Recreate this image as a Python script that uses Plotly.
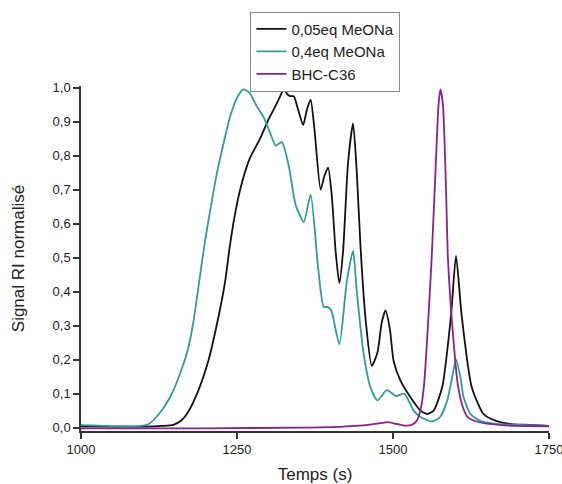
import plotly.graph_objects as go

# 0,05eq MeONa (black)
t_black = [1000, 1050, 1100, 1130, 1148, 1160, 1170, 1186, 1204, 1221, 1231, 1238, 1246, 1255,
           1270, 1287, 1300, 1310, 1318, 1325, 1331, 1336, 1341, 1348, 1356, 1362, 1368, 1374,
           1384, 1390, 1396, 1402, 1408, 1414, 1420, 1428, 1436, 1442, 1448, 1456, 1466, 1475,
           1482, 1488, 1495, 1501, 1512, 1528, 1544, 1555, 1565, 1579, 1593, 1601, 1610, 1626,
           1645, 1665, 1690, 1720, 1750]
v_black = [0.004, 0.003, 0.003, 0.005, 0.008, 0.02, 0.041, 0.10, 0.196, 0.332, 0.43, 0.527, 0.62, 0.70,
           0.79, 0.85, 0.905, 0.94, 0.97, 0.995, 0.98, 0.975, 0.975, 0.935, 0.89, 0.935, 0.965, 0.88,
           0.70, 0.74, 0.765, 0.68, 0.52, 0.425, 0.52, 0.78, 0.895, 0.75, 0.53, 0.32, 0.182, 0.22,
           0.31, 0.345, 0.29, 0.196, 0.138, 0.089, 0.05, 0.04, 0.05, 0.12, 0.33, 0.505, 0.33, 0.12,
           0.04, 0.02, 0.01, 0.008, 0.005]

# 0,4eq MeONa (teal)
t_teal = [1000, 1030, 1060, 1090, 1108, 1125, 1143, 1159, 1172, 1180, 1188, 1194, 1202, 1210,
          1218, 1229, 1239, 1250, 1260, 1270, 1282, 1293, 1303, 1312, 1322, 1333, 1344, 1357,
          1368, 1380, 1389, 1395, 1401, 1414, 1426, 1436, 1442, 1453, 1464, 1475, 1490, 1505,
          1518, 1533, 1544, 1562, 1575, 1587, 1595, 1601, 1608, 1613, 1624, 1640, 1670, 1700, 1750]
v_teal = [0.007, 0.006, 0.004, 0.004, 0.01, 0.04, 0.09, 0.16, 0.235, 0.31, 0.41, 0.49, 0.585, 0.67,
          0.75, 0.84, 0.915, 0.97, 0.995, 0.985, 0.944, 0.912, 0.867, 0.83, 0.84, 0.77, 0.655, 0.605,
          0.685, 0.47, 0.355, 0.355, 0.345, 0.245, 0.43, 0.52, 0.40, 0.216, 0.118, 0.08, 0.11, 0.093,
          0.10, 0.05, 0.031, 0.018, 0.03, 0.08, 0.15, 0.20, 0.15, 0.09, 0.04, 0.02, 0.01, 0.008, 0.005]

# BHC-C36 (purple)
t_purple = [1000, 1200, 1350, 1420, 1460, 1480, 1491, 1503, 1518, 1530, 1538, 1545, 1550, 1556,
            1562, 1568, 1573, 1576, 1580, 1585, 1588, 1595, 1604, 1612, 1620, 1640, 1670, 1700, 1750]
v_purple = [-0.002, -0.002, 0.0, 0.003, 0.008, 0.013, 0.016, 0.012, 0.006, 0.008, 0.02, 0.06, 0.13, 0.30,
            0.50, 0.75, 0.95, 0.995, 0.95, 0.70, 0.50, 0.30, 0.125, 0.06, 0.03, 0.015, 0.008, 0.005, 0.004]

series_names = ["0,05eq MeONa", "0,4eq MeONa", "BHC-C36"]
x_ticks = [1000, 1250, 1500, 1750]
y_ticks = [0.0, 0.1, 0.2, 0.3, 0.4, 0.5, 0.6, 0.7, 0.8, 0.9, 1.0]

fig = go.Figure()
fig.add_trace(go.Scatter(x=t_black, y=v_black, name=series_names[0], mode="lines",
                         line=dict(color="#111111", width=1.8, shape="spline", smoothing=0.6)))
fig.add_trace(go.Scatter(x=t_teal, y=v_teal, name=series_names[1], mode="lines",
                         line=dict(color="#2E9D97", width=1.8, shape="spline", smoothing=0.6)))
fig.add_trace(go.Scatter(x=t_purple, y=v_purple, name=series_names[2], mode="lines",
                         line=dict(color="#8E1F8E", width=1.8, shape="spline", smoothing=0.6)))

font_family = "Liberation Sans, Arial, sans-serif"
fig.update_layout(
    width=562, height=484,
    margin=dict(l=81, r=13, t=83, b=53),
    paper_bgcolor="white", plot_bgcolor="white",
    separators=", ",
    font=dict(family=font_family, color="#222222", size=13),
    showlegend=True,
    legend=dict(x=0.362, y=1.2155, xanchor="left", yanchor="top",
                bordercolor="#8a8a8a", borderwidth=1, bgcolor="white",
                font=dict(size=15, family=font_family, color="#222222"),
                tracegroupgap=0, itemwidth=30),
    xaxis=dict(range=[1000, 1750], tickvals=x_ticks, showgrid=False, zeroline=False,
               automargin=False, ticklabeloverflow="allow",
               showline=True, linecolor="#333333", linewidth=1.5,
               ticks="outside", ticklen=6, tickwidth=1.5, tickcolor="#333333",
               tickfont=dict(size=13),
               title=dict(text="Temps (s)", font=dict(size=17), standoff=13)),
    yaxis=dict(range=[-0.01, 1.005], tickvals=y_ticks, tickformat=".1f", showgrid=False,
               automargin=False,
               zeroline=False, showline=True, linecolor="#333333", linewidth=1.5,
               ticks="outside", ticklen=6, tickwidth=1.5, tickcolor="#333333",
               tickfont=dict(size=13),
               title=dict(text="Signal RI normalisé", font=dict(size=17), standoff=24)),
)

fig.write_html("out.html",
               config={"displayModeBar": False},
               post_script="document.body.style.margin='0px';document.body.style.overflow='hidden';")
